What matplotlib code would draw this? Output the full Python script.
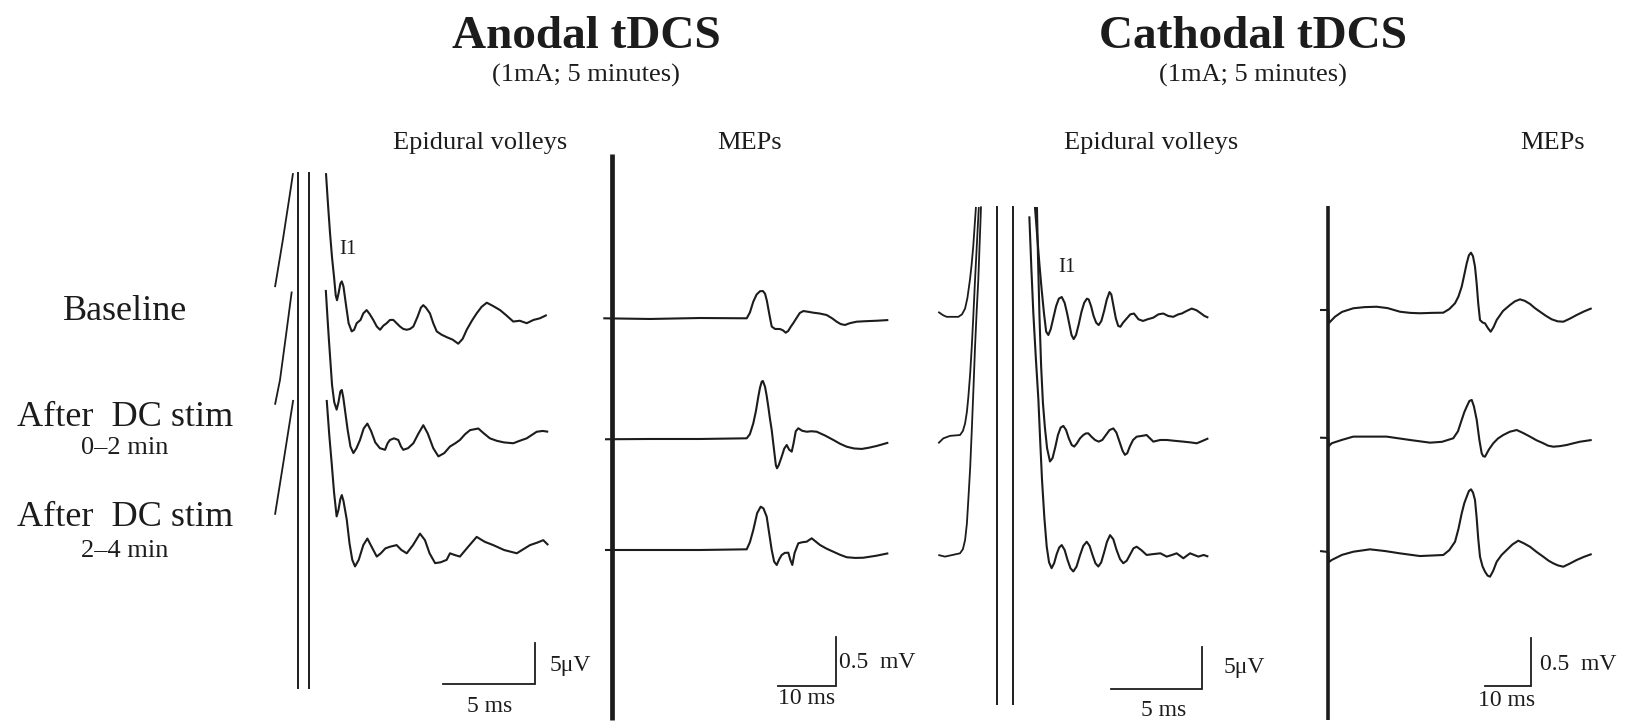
import matplotlib
matplotlib.use('Agg')
import matplotlib.pyplot as plt

W, H = 1629, 725
DPI = 100
INK = '#1c1c1c'

# rows of the figure
conditions = ['Baseline', 'After  DC stim', 'After  DC stim']
condition_notes = ['', '0\u20132 min', '2\u20134 min']

# ---- anodal tDCS, epidural volleys (ms from stimulus artefact, uV from trace baseline)
# trace before the artefact (rising edge, clipped) and after it (decay + I waves)
anodal_ev_pre_t = [
    [-1.25, -0.82, -0.43, -0.27],
    [-1.25, -0.98, -0.65, -0.34],
    [-1.25, -0.80, -0.26],
]
anodal_ev_pre_v = [
    [3.4, 9.2, 14.9, 17.3],
    [4.3, 7.3, 12.8, 18.1],
    [4.3, 10.6, 18.3],
]
anodal_ev_post_t = [
    [1.52, 1.63, 1.74, 1.85, 1.96, 2.05, 2.12, 2.20, 2.30, 2.38, 2.47, 2.61, 2.75, 2.92, 3.05,
     3.19, 3.40, 3.55, 3.73, 3.90, 4.09, 4.28, 4.46, 4.64, 4.82, 5.00, 5.18, 5.36, 5.54, 5.72,
     5.91, 6.09, 6.27, 6.50, 6.68, 6.81, 6.95, 7.17, 7.35, 7.54, 7.80, 8.08, 8.40, 8.71, 8.95,
     9.17, 9.45, 9.71, 9.98, 10.26, 10.60, 10.98, 11.30, 11.70, 12.05, 12.43, 12.80, 13.15, 13.52],
    [1.51, 1.60, 1.68, 1.77, 1.85, 1.97, 2.10, 2.20, 2.30, 2.38, 2.46, 2.55, 2.70, 2.85, 3.01,
     3.18, 3.37, 3.57, 3.77, 3.97, 4.20, 4.45, 4.73, 4.87, 5.00, 5.22, 5.45, 5.60, 5.72, 5.98,
     6.27, 6.55, 6.81, 7.05, 7.35, 7.63, 7.95, 8.26, 8.55, 8.80, 9.08, 9.35, 9.80, 10.10, 10.43,
     10.80, 11.20, 11.70, 12.05, 12.43, 12.70, 12.97, 13.30, 13.60],
    [1.56, 1.70, 1.83, 1.96, 2.10, 2.20, 2.30, 2.38, 2.47, 2.65, 2.80, 2.95, 3.10, 3.30, 3.55,
     3.77, 4.00, 4.28, 4.50, 4.75, 5.00, 5.36, 5.62, 5.91, 6.25, 6.63, 6.90, 7.15, 7.45, 7.75,
     8.08, 8.26, 8.50, 8.80, 9.25, 9.71, 10.15, 10.61, 11.20, 11.89, 12.25, 12.61, 13.00, 13.33,
     13.60],
]
anodal_ev_post_v = [
    [17.3, 13.5, 10.0, 7.0, 4.6, 2.4, 1.8, 2.6, 3.8, 4.1, 3.5, 1.2, -1.0, -2.0, -1.8,
     -1.0, -0.6, 0.2, 0.6, 0.1, -0.6, -1.4, -1.8, -1.3, -1.0, -0.6, -0.6, -1.0, -1.4, -1.7,
     -1.8, -1.7, -1.4, -0.2, 0.9, 1.2, 0.9, 0.2, -1.0, -2.0, -2.4, -2.7, -3.0, -3.5, -2.9,
     -1.8, -0.7, 0.2, 1.0, 1.5, 1.1, 0.6, 0.0, -0.8, -0.7, -1.0, -0.6, -0.4, 0.0],
    [18.3, 15.0, 12.2, 9.3, 6.7, 4.6, 3.7, 4.6, 5.9, 6.1, 5.2, 3.7, 1.2, -0.8, -1.6,
     -1.0, 0.0, 1.4, 2.0, 1.1, -0.3, -1.0, -1.2, -0.4, 0.0, 0.2, 0.0, -0.8, -1.2, -1.0,
     -0.4, 0.8, 1.8, 0.8, -1.0, -2.0, -1.6, -0.8, -0.4, 0.0, 0.7, 1.2, 1.4, 0.8, 0.2,
     -0.1, -0.3, -0.4, -0.1, 0.2, 0.6, 1.0, 1.1, 1.0],
    [18.3, 14.0, 10.6, 7.0, 4.1, 4.9, 6.2, 6.7, 6.0, 3.7, 0.8, -1.2, -2.0, -1.2, 0.6,
     1.4, 0.4, -0.8, -0.4, 0.2, 0.4, 0.6, 0.0, -0.4, 0.6, 2.0, 1.2, -0.4, -1.6, -1.5,
     -1.2, -0.4, -0.6, -0.8, 0.4, 1.6, 1.0, 0.6, 0.0, -0.4, 0.1, 0.6, 0.9, 1.2, 0.6],
]
anodal_ev_artefact_t = [0.0, 0.6]
anodal_ev_artefact_top = [17.3, 17.3]
anodal_ev_artefact_bottom = [-45.5, -45.5]

# ---- anodal tDCS, MEPs (ms, mV)
anodal_mep_t = [
    [-1.46, 6.64, 15.30, 23.40, 23.95, 24.54, 25.10, 25.70, 26.20, 26.57, 26.90, 27.14, 27.45,
     27.73, 28.30, 29.17, 29.70, 30.16, 30.60, 31.00, 31.47, 32.00, 32.60, 33.21, 34.00, 34.94,
     36.00, 37.26, 38.20, 38.99, 39.70, 40.43, 41.30, 42.46, 44.00, 46.00, 47.94],
    [-1.16, 6.64, 15.30, 23.40, 23.95, 24.54, 25.00, 25.41, 25.70, 26.00, 26.20, 26.57, 26.85,
     27.14, 27.45, 27.73, 28.15, 28.45, 28.65, 28.95, 29.46, 29.90, 30.33, 30.75, 31.20, 31.50,
     31.90, 32.34, 33.00, 33.80, 34.60, 35.53, 37.00, 38.41, 39.60, 40.73, 42.00, 43.33, 44.60,
     45.93, 47.94],
    [-1.16, 15.30, 23.40, 23.95, 24.54, 25.20, 25.82, 26.30, 26.86, 27.30, 27.73, 28.15, 28.60,
     29.00, 29.46, 30.00, 30.61, 30.95, 31.30, 31.70, 32.34, 33.00, 33.80, 34.66, 35.30, 36.10,
     37.20, 38.41, 39.60, 40.73, 42.20, 43.60, 45.80, 47.94],
]
anodal_mep_v = [
    [0.0, -0.007, 0.003, 0.0, 0.06, 0.172, 0.245, 0.280, 0.282, 0.255, 0.18, 0.10, 0.0,
     -0.085, -0.11, -0.111, -0.125, -0.149, -0.13, -0.09, -0.05, 0.0, 0.055, 0.075, 0.068, 0.058,
     0.05, 0.034, 0.0, -0.035, -0.06, -0.069, -0.05, -0.035, -0.03, -0.025, -0.018],
    [-0.003, 0.0, 0.0, 0.007, 0.05, 0.162, 0.29, 0.437, 0.53, 0.593, 0.60, 0.541, 0.45,
     0.334, 0.20, 0.093, -0.12, -0.27, -0.303, -0.27, -0.183, -0.10, -0.062, -0.11, -0.131, -0.05,
     0.08, 0.111, 0.085, 0.075, 0.08, 0.075, 0.035, -0.010, -0.05, -0.080, -0.098, -0.103, -0.09,
     -0.072, -0.038],
    [0.0, 0.0, 0.007, 0.08, 0.207, 0.38, 0.448, 0.43, 0.345, 0.17, 0.0, -0.12, -0.155,
     -0.10, -0.052, -0.03, -0.028, -0.10, -0.155, -0.03, 0.069, 0.08, 0.086, 0.121, 0.09, 0.052,
     0.015, -0.018, -0.05, -0.075, -0.082, -0.080, -0.06, -0.034],
]
anodal_mep_stim_top = 1.70
anodal_mep_stim_bottom = -4.15

# ---- cathodal tDCS, epidural volleys (ms, uV)
cathodal_ev_pre_t = [
    [-3.26, -3.00, -2.80, -2.15, -1.95, -1.78, -1.65, -1.51, -1.42, -1.33, -1.18],
    [-3.26, -2.98, -2.61, -2.06, -1.90, -1.78, -1.68, -1.60, -1.50, -1.41, -1.32, -1.23, -1.14,
     -1.05, -1.02],
    [-3.26, -2.89, -2.06, -1.90, -1.78, -1.68, -1.60, -1.50, -1.41, -1.32, -1.23, -1.14, -1.05,
     -0.92, -0.90],
]
cathodal_ev_pre_v = [
    [0.5, 0.1, -0.1, -0.1, 0.2, 0.9, 2.2, 4.4, 6.2, 8.4, 13.2],
    [-0.4, 0.2, 0.5, 0.6, 1.1, 2.0, 3.4, 5.2, 8.0, 11.3, 15.2, 19.4, 23.2, 27.0, 28.2],
    [0.0, -0.2, 0.2, 0.7, 1.8, 3.8, 6.7, 10.5, 15.1, 20.0, 25.2, 29.5, 33.3, 41.0, 42.2],
]
cathodal_ev_post_t = [
    [2.08, 2.20, 2.33, 2.45, 2.58, 2.70, 2.82, 2.95, 3.10, 3.25, 3.40, 3.56, 3.72, 3.85, 3.98,
     4.10, 4.22, 4.35, 4.50, 4.65, 4.80, 4.95, 5.05, 5.18, 5.32, 5.46, 5.60, 5.75, 5.90, 6.05,
     6.20, 6.30, 6.42, 6.55, 6.68, 6.80, 6.95, 7.15, 7.35, 7.55, 7.80, 8.05, 8.30, 8.62, 8.90,
     9.17, 9.45, 9.72, 10.00, 10.19, 10.45, 10.74, 11.00, 11.20, 11.45, 11.66],
    [2.19, 2.25, 2.33, 2.42, 2.52, 2.63, 2.75, 2.91, 3.05, 3.20, 3.35, 3.50, 3.65, 3.80, 3.95,
     4.11, 4.25, 4.40, 4.57, 4.75, 4.90, 5.03, 5.20, 5.40, 5.60, 5.80, 6.00, 6.20, 6.41, 6.58,
     6.75, 6.92, 7.05, 7.18, 7.32, 7.50, 7.70, 8.00, 8.25, 8.62, 9.00, 9.36, 9.80, 10.28, 10.70,
     11.02, 11.35, 11.66],
    [1.77, 1.88, 1.99, 2.13, 2.27, 2.37, 2.47, 2.60, 2.73, 2.86, 3.00, 3.14, 3.28, 3.42, 3.56,
     3.72, 3.88, 4.04, 4.20, 4.38, 4.56, 4.75, 4.94, 5.10, 5.26, 5.42, 5.58, 5.74, 5.90, 6.06,
     6.23, 6.41, 6.59, 6.78, 6.96, 7.15, 7.35, 7.52, 7.70, 7.95, 8.25, 8.60, 9.01, 9.36, 9.65,
     9.91, 10.28, 10.65, 11.11, 11.40, 11.66],
]
cathodal_ev_post_v = [
    [13.2, 9.8, 6.2, 3.2, 0.3, -1.9, -2.3, -1.6, -0.2, 1.2, 2.1, 2.3, 1.6, 0.4, -1.0,
     -2.3, -2.8, -2.3, -1.0, 0.5, 1.6, 2.1, 2.0, 1.2, 0.0, -0.8, -1.1, -0.6, 0.6, 2.0,
     2.9, 2.6, 1.2, -0.3, -1.2, -1.3, -0.8, -0.3, 0.2, 0.3, -0.4, -0.6, -0.4, -0.2, 0.2,
     0.3, 0.0, -0.1, 0.2, 0.3, 0.6, 0.9, 0.7, 0.4, 0.0, -0.2],
    [28.2, 22.0, 15.0, 9.0, 4.5, 1.5, -1.0, -2.6, -2.2, -0.9, 0.6, 1.5, 1.7, 1.2, 0.2,
     -0.6, -0.8, -0.4, 0.2, 0.6, 0.8, 0.8, 0.4, 0.0, -0.2, 0.0, 0.6, 1.2, 1.4, 0.9,
     -0.2, -1.3, -1.8, -1.6, -0.8, 0.0, 0.4, 0.5, 0.6, -0.2, 0.0, 0.0, -0.1, -0.2, -0.3,
     -0.4, -0.1, 0.2],
    [41.0, 34.8, 29.3, 23.8, 18.8, 13.8, 9.1, 4.5, 1.0, -0.9, -1.6, -1.0, 0.1, 0.9, 1.2,
     0.6, -0.6, -1.6, -2.0, -1.4, -0.1, 1.1, 1.6, 1.1, 0.0, -1.0, -1.4, -0.9, 0.3, 1.6,
     2.4, 1.9, 0.6, -0.5, -1.0, -0.7, 0.1, 0.8, 1.0, 0.6, 0.0, 0.1, 0.2, -0.2, 0.0,
     0.2, -0.4, 0.2, -0.2, 0.0, -0.2],
]
cathodal_ev_artefact_t = [0.0, 0.88]
cathodal_ev_artefact_top = [13.2, 13.2]
cathodal_ev_artefact_bottom = [-47.0, -47.0]

# ---- cathodal tDCS, MEPs (ms, mV)
cathodal_mep_t = [
    [-1.82, 0.0, 0.15, 1.47, 3.00, 5.49, 8.00, 10.64, 13.00, 15.76, 18.00, 20.15, 22.70, 25.27,
     26.60, 27.85, 28.60, 29.32, 29.90, 30.42, 30.90, 31.36, 31.80, 32.24, 32.60, 32.95, 33.34,
     33.90, 34.44, 35.10, 35.69, 36.30, 37.01, 38.40, 39.93, 41.00, 42.13, 43.20, 44.33, 45.40,
     46.53, 47.80, 49.10, 50.40, 51.65, 53.10, 54.59, 56.20, 57.89],
    [-1.82, 0.0, 0.15, 0.75, 3.00, 5.49, 12.84, 17.96, 22.35, 25.00, 27.47, 28.50, 29.32, 29.90,
     30.42, 31.00, 31.52, 32.00, 32.62, 33.20, 33.71, 34.05, 34.44, 35.30, 36.26, 37.30, 38.46,
     39.90, 41.41, 42.90, 44.33, 45.80, 47.25, 48.30, 49.45, 50.90, 52.40, 53.90, 55.32, 57.89],
    [-1.82, 0.0, 0.15, 0.75, 3.00, 5.49, 9.16, 12.50, 15.76, 20.15, 25.27, 26.60, 27.85, 28.60,
     29.32, 29.90, 30.42, 30.90, 31.36, 31.80, 32.24, 32.60, 32.95, 33.34, 33.90, 34.44, 35.00,
     35.54, 36.20, 37.01, 38.10, 39.21, 40.50, 41.76, 43.00, 44.33, 45.80, 47.25, 48.40, 49.45,
     50.50, 51.65, 53.10, 54.59, 56.20, 57.89],
]
cathodal_mep_v = [
    [0.0, 0.0, -0.135, -0.070, -0.02, 0.018, 0.03, 0.034, 0.02, -0.018, -0.03, -0.034, -0.03,
     -0.028, 0.01, 0.070, 0.14, 0.243, 0.37, 0.486, 0.57, 0.597, 0.56, 0.451, 0.28, 0.07, -0.104,
     -0.13, -0.139, -0.19, -0.226, -0.18, -0.104, -0.01, 0.052, 0.09, 0.111, 0.095, 0.063, 0.02,
     -0.018, -0.06, -0.097, -0.118, -0.122, -0.09, -0.052, -0.015, 0.018],
    [0.003, 0.0, -0.083, -0.055, -0.02, 0.014, 0.014, -0.021, -0.049, -0.04, -0.003, 0.07, 0.188,
     0.27, 0.326, 0.385, 0.396, 0.33, 0.188, -0.02, -0.159, -0.19, -0.195, -0.12, -0.055, -0.005,
     0.031, 0.065, 0.083, 0.05, 0.014, -0.025, -0.055, -0.08, -0.091, -0.085, -0.073, -0.055,
     -0.039, -0.021],
    [0.010, 0.0, -0.104, -0.083, -0.03, 0.003, 0.028, 0.01, -0.014, -0.042, -0.031, 0.02, 0.107,
     0.24, 0.403, 0.51, 0.576, 0.635, 0.653, 0.62, 0.542, 0.36, 0.14, -0.049, -0.15, -0.205,
     -0.245, -0.257, -0.20, -0.101, -0.03, 0.021, 0.08, 0.118, 0.09, 0.055, 0.0, -0.049, -0.09,
     -0.118, -0.14, -0.153, -0.12, -0.083, -0.05, -0.021],
]
cathodal_mep_stim_top = 1.08
cathodal_mep_stim_bottom = -4.27

# ---- layout: (x of t=0, y of first baseline) in pixels, pixels per ms, pixels per amplitude unit
# and the vertical offsets of the three traces (amplitude units)
LAYOUT_AEV = dict(x0=298, y0=315, sx=18.4, sy=8.2, offsets=[0, -15.24, -28.66])
LAYOUT_AMEP = dict(x0=611.7, y0=318.3, sx=5.77, sy=96.7, offsets=[0, -1.248, -2.396])
LAYOUT_CEV = dict(x0=997.3, y0=316, sx=18.1, sy=8.26, offsets=[0, -15.01, -28.93])
LAYOUT_CMEP = dict(x0=1328.3, y0=310, sx=4.55, sy=96, offsets=[0, -1.333, -2.521])

plt.rcParams['font.family'] = ['Liberation Serif', 'DejaVu Serif']
plt.rcParams['text.color'] = INK


def px(x, y):
    return x / W, 1 - y / H


def panel_axes(fig, lay):
    ax = fig.add_axes([0, 0, 1, 1])
    ax.set_xlim(-lay['x0'] / lay['sx'], (W - lay['x0']) / lay['sx'])
    ax.set_ylim(-(H - lay['y0']) / lay['sy'], lay['y0'] / lay['sy'])
    ax.axis('off')
    ax.patch.set_alpha(0)
    return ax


def draw_trace(ax, t, v, offset, lw=1.5):
    ax.plot(t, [a + offset for a in v], color=INK, lw=lw,
            solid_joinstyle='round', solid_capstyle='butt')


def scale_bar(ax, t_start, v_start, dt, dv):
    ax.plot([t_start, t_start + dt, t_start + dt], [v_start, v_start, v_start + dv],
            color=INK, lw=1.3, solid_joinstyle='miter')


def plot_ev(fig, lay, pre_t, pre_v, post_t, post_v, art_t, art_top, art_bot, bar):
    ax = panel_axes(fig, lay)
    for i, off in enumerate(lay['offsets']):
        draw_trace(ax, pre_t[i], pre_v[i], off, lw=1.3)
        draw_trace(ax, post_t[i], post_v[i], off)
    for t, top, bot in zip(art_t, art_top, art_bot):
        ax.plot([t, t], [bot, top], color=INK, lw=1.4)
    scale_bar(ax, *bar)
    return ax


def plot_mep(fig, lay, ts, vs, stim_top, stim_bottom, stim_lw, bar):
    ax = panel_axes(fig, lay)
    ax.plot([0, 0], [stim_bottom, stim_top], color=INK, lw=stim_lw, solid_capstyle='butt')
    for i, off in enumerate(lay['offsets']):
        draw_trace(ax, ts[i], vs[i], off)
    scale_bar(ax, *bar)
    return ax


def main():
    fig = plt.figure(figsize=(W / DPI, H / DPI), dpi=DPI)

    plot_ev(fig, LAYOUT_AEV, anodal_ev_pre_t, anodal_ev_pre_v, anodal_ev_post_t, anodal_ev_post_v,
            anodal_ev_artefact_t, anodal_ev_artefact_top, anodal_ev_artefact_bottom,
            (7.88, -45.0, 5, 5))
    plot_mep(fig, LAYOUT_AMEP, anodal_mep_t, anodal_mep_v, anodal_mep_stim_top,
             anodal_mep_stim_bottom, 3.4, (28.86, -3.80, 10, 0.5))
    plot_ev(fig, LAYOUT_CEV, cathodal_ev_pre_t, cathodal_ev_pre_v, cathodal_ev_post_t,
            cathodal_ev_post_v, cathodal_ev_artefact_t, cathodal_ev_artefact_top,
            cathodal_ev_artefact_bottom, (6.29, -45.1, 5, 5))
    plot_mep(fig, LAYOUT_CMEP, cathodal_mep_t, cathodal_mep_v, cathodal_mep_stim_top,
             cathodal_mep_stim_bottom, 2.6, (34.44, -3.92, 10, 0.5))

    # titles
    for cx, name in [(586, 'Anodal tDCS'), (1253, 'Cathodal tDCS')]:
        fig.text(*px(cx, 37), name, fontsize=34, fontweight='bold', ha='center', va='center')
        fig.text(*px(cx, 75), '(1mA; 5 minutes)', fontsize=19, ha='center', va='center')

    for cx, name in [(480, 'Epidural volleys'), (750, 'MEPs'),
                     (1151, 'Epidural volleys'), (1553, 'MEPs')]:
        fig.text(*px(cx, 143), name, fontsize=19, ha='center', va='center')

    # row labels
    for cy, name in zip([311, 418, 517], conditions):
        fig.text(*px(125, cy), name, fontsize=26, ha='center', va='center')
    for cy, note in zip([311, 448, 551], condition_notes):
        if note:
            fig.text(*px(125, cy), note, fontsize=19, ha='center', va='center')

    # I1 markers
    fig.text(*px(348, 250), 'I1', fontsize=15, ha='center', va='center')
    fig.text(*px(1067, 268), 'I1', fontsize=15, ha='center', va='center')

    # scale bar labels
    fig.text(*px(550, 665), '5\u03bcV', fontsize=17, ha='left', va='center')
    fig.text(*px(490, 707), '5 ms', fontsize=17, ha='center', va='center')
    fig.text(*px(839, 662), '0.5  mV', fontsize=17, ha='left', va='center')
    fig.text(*px(807, 699), '10 ms', fontsize=17, ha='center', va='center')
    fig.text(*px(1224, 667), '5\u03bcV', fontsize=17, ha='left', va='center')
    fig.text(*px(1164, 711), '5 ms', fontsize=17, ha='center', va='center')
    fig.text(*px(1540, 664), '0.5  mV', fontsize=17, ha='left', va='center')
    fig.text(*px(1507, 700), '10 ms', fontsize=17, ha='center', va='center')

    fig.savefig('out.png', dpi=DPI, facecolor='white')


if __name__ == '__main__':
    main()
